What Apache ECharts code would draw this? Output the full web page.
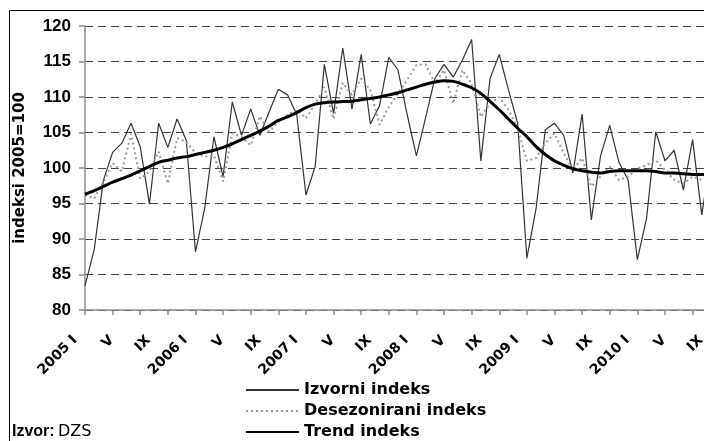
<!DOCTYPE html>
<html>
<head>
<meta charset="utf-8">
<script src="https://cdn.jsdelivr.net/npm/echarts@6/dist/echarts.min.js"></script>
<style>
html, body { margin: 0; padding: 0; background: #fff; }
#main { width: 704px; height: 441px; }
</style>
</head>
<body>
<div id="main"></div>
<script>
// mjeseci 2005 I - 2010 IX
var years = [2005, 2006, 2007, 2008, 2009, 2010];
var romanMonths = ["I", "II", "III", "IV", "V", "VI", "VII", "VIII", "IX", "X", "XI", "XII"];
var monthCount = 69;

var izvorni = [
  83.4, 88.5, 98.3, 102.2, 103.5, 106.3, 103.0, 94.9, 106.3, 102.9, 106.9, 103.9,
  88.2, 94.3, 104.4, 98.8, 109.3, 104.6, 108.3, 104.6, 107.9, 111.1, 110.3, 107.5,
  96.2, 100.2, 114.6, 107.7, 116.9, 108.3, 116.0, 106.2, 108.8, 115.6, 113.8, 107.5,
  101.7, 107.1, 112.6, 114.6, 112.8, 115.2, 118.1, 101.0, 112.6, 116.0, 111.0, 106.3,
  87.3, 94.3, 105.4, 106.3, 104.6, 99.3, 107.6, 92.7, 101.7, 106.0, 100.8, 98.3,
  87.1, 92.9, 105.1, 101.0, 102.5, 96.9, 104.0, 93.4, 102.0
];
var desezonirani = [
  96.2, 95.7, 98.0, 100.7, 99.5, 104.8, 98.5, 99.5, 102.3, 97.8, 104.2, 103.7,
  102.1, 101.6, 101.8, 98.1, 104.9, 104.4, 103.2, 107.3, 105.1, 106.5, 107.5, 108.2,
  107.0, 109.0, 111.4, 106.9, 112.0, 110.3, 112.6, 111.0, 106.1, 108.6, 110.5, 112.4,
  114.5, 114.6, 111.9, 113.8, 109.1, 113.8, 111.9, 107.2, 109.1, 110.0, 108.2, 105.6,
  101.0, 101.4, 103.5, 104.9, 102.1, 99.7, 101.4, 97.4, 98.8, 100.2, 98.3, 98.8,
  99.9, 100.4, 101.1, 99.7, 98.3, 97.8, 98.8, 98.3, 99.0
];
var trend = [
  96.3, 96.8, 97.4, 98.0, 98.5, 99.0, 99.6, 100.2, 100.8, 101.1, 101.4, 101.6,
  101.9, 102.2, 102.5, 102.9, 103.4, 104.0, 104.6, 105.2, 105.9, 106.7, 107.2, 107.8,
  108.5, 109.0, 109.2, 109.3, 109.35, 109.4, 109.6, 109.8, 110.0, 110.3, 110.6, 111.0,
  111.4, 111.8, 112.1, 112.3, 112.2, 111.8, 111.3, 110.5, 109.4, 108.2, 106.9, 105.6,
  104.4, 103.0, 101.9, 101.0, 100.4, 99.9, 99.6, 99.4, 99.3, 99.5, 99.6, 99.6,
  99.6, 99.6, 99.5, 99.3, 99.3, 99.2, 99.1, 99.1, 99.0
];

var months = [];
for (var i = 0; i < monthCount; i++) {
  var m = romanMonths[i % 12];
  months.push(i % 12 === 0 ? years[Math.floor(i / 12)] + " " + m : m);
}

var labelFont = "'Liberation Sans', Arial, sans-serif";
var wideFont = "'DejaVu Sans', sans-serif";

var chart = echarts.init(document.getElementById("main"));
var option = {
  animation: false,
  backgroundColor: "#fff",
  grid: { left: 85, right: -7, top: 26, bottom: 131, outerBoundsMode: "none" },
  xAxis: {
    type: "category",
    boundaryGap: false,
    data: months,
    axisLine: { lineStyle: { color: "#8c8c8c", width: 1.5 } },
    axisTick: { interval: 2, length: 5, lineStyle: { color: "#8c8c8c", width: 1.5 } },
    // labels drawn below as rotated texts at the axis' own positions
    axisLabel: { show: false },
    splitLine: { show: false }
  },
  yAxis: {
    type: "value",
    min: 80,
    max: 120,
    interval: 5,
    name: "indeksi 2005=100",
    nameLocation: "middle",
    nameGap: 57,
    nameTextStyle: { color: "#000", fontFamily: wideFont, fontWeight: "bold", fontSize: 15 },
    axisLine: { show: true, lineStyle: { color: "#8c8c8c", width: 1.5 } },
    axisTick: { show: true, length: 6, lineStyle: { color: "#8c8c8c", width: 1.5 } },
    axisLabel: { margin: 14, color: "#000", fontFamily: labelFont, fontWeight: "bold", fontSize: 17 },
    splitLine: { lineStyle: { color: "#444", type: [8, 5], width: 1 } }
  },
  legend: {
    orient: "vertical",
    left: 245,
    top: 382,
    height: 120,
    padding: 0,
    itemWidth: 53,
    itemHeight: 14,
    itemGap: 5,
    itemStyle: { opacity: 0 },
    textStyle: { color: "#000", fontFamily: wideFont, fontWeight: "bold", fontSize: 16 },
    data: ["Izvorni indeks", "Desezonirani indeks", "Trend indeks"]
  },
  graphic: [
    {
      type: "rect",
      shape: { x: 9.5, y: 10.5, width: 760, height: 480 },
      style: { fill: "none", stroke: "#000", lineWidth: 1 },
      silent: true
    },
    {
      type: "text",
      x: 12,
      y: 424,
      style: {
        text: "{b|Izvor:} {n|DZS}",
        rich: {
          b: { fontFamily: labelFont, fontWeight: "bold", fontSize: 16, fill: "#000" },
          n: { fontFamily: wideFont, fontSize: 16, fill: "#000" }
        }
      }
    }
  ],
  series: [
    {
      name: "Izvorni indeks",
      type: "line",
      data: izvorni,
      symbol: "none",
      lineStyle: { color: "#333", width: 1.2 },
      itemStyle: { color: "#333" },
      z: 2
    },
    {
      name: "Desezonirani indeks",
      type: "line",
      data: desezonirani,
      symbol: "none",
      lineStyle: { color: "#999", width: 2, type: [2, 3] },
      itemStyle: { color: "#999" },
      z: 3
    },
    {
      name: "Trend indeks",
      type: "line",
      data: trend,
      symbol: "none",
      smooth: 0.3,
      lineStyle: { color: "#000", width: 3 },
      itemStyle: { color: "#000" },
      z: 4
    }
  ]
};
chart.setOption(option);

// x labels every 4 months, rotated 45deg, placed from the category axis scale
var axisY = chart.convertToPixel({ yAxisIndex: 0 }, 80);
var xLabels = [];
for (var k = 0; k < months.length; k += 4) {
  var px = chart.convertToPixel({ xAxisIndex: 0 }, k);
  xLabels.push({
    type: "text",
    x: px - 10,
    y: axisY + 28,
    rotation: Math.PI / 4,
    silent: true,
    style: {
      text: months[k],
      align: "right",
      verticalAlign: "middle",
      fontFamily: wideFont,
      fontWeight: "bold",
      fontSize: 14,
      fill: "#000"
    }
  });
}
chart.setOption({ graphic: option.graphic.concat(xLabels) });
</script>
</body>
</html>
